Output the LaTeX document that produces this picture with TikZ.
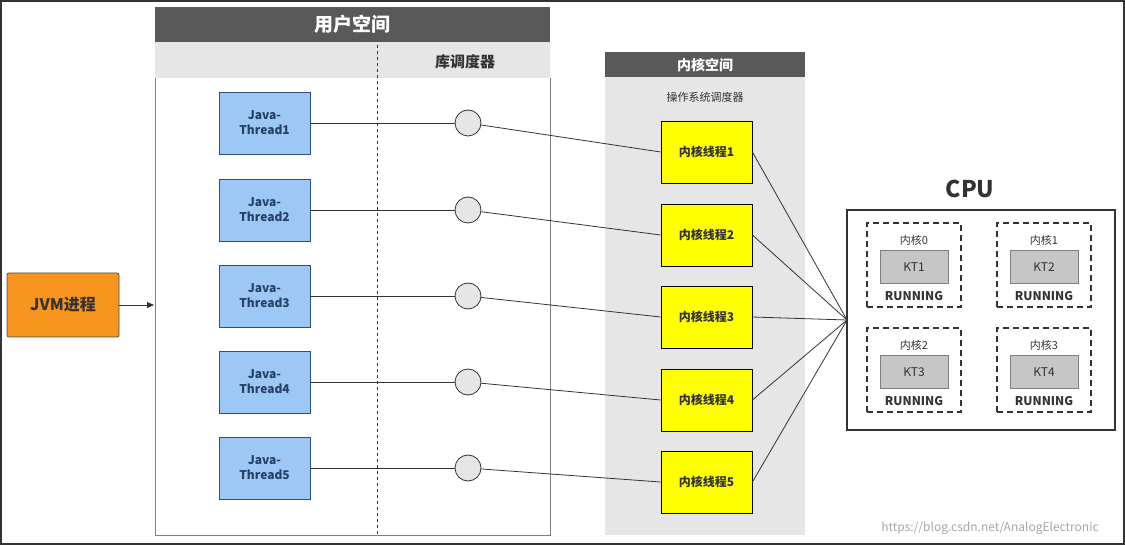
\documentclass[tikz,border=0pt]{standalone}
\usepackage{fontspec}
\setmainfont{Noto Sans CJK SC}
\usetikzlibrary{arrows.meta}
\definecolor{hdr}{HTML}{595959}
\definecolor{band}{HTML}{E6E6E6}
\definecolor{jblue}{HTML}{9DC8F5}
\definecolor{jbord}{HTML}{2F4F7F}
\definecolor{kyel}{HTML}{FFFF00}
\definecolor{orng}{HTML}{F7941D}
\definecolor{txt}{HTML}{333333}
\tikzset{
 jt/.style={draw=jbord,fill=jblue,line width=0.8pt,minimum width=91pt,minimum height=62pt,align=center,font=\fontsize{12}{15}\selectfont\bfseries,text=jbord!80!black},
 kt/.style={draw=black,fill=kyel,line width=0.8pt,minimum width=91pt,minimum height=62pt,font=\fontsize{12}{14}\selectfont\bfseries,text=txt},
 sch/.style={circle,draw=txt,fill=band,line width=0.8pt,minimum size=26pt,inner sep=0pt},
 core/.style={draw=txt,dash pattern=on 6pt off 4pt,line width=1.4pt,minimum width=94pt,minimum height=84pt},
 ktb/.style={draw=gray,fill=gray!45,minimum width=68pt,minimum height=33pt,font=\fontsize{12}{14}\selectfont,text=txt},
 conn/.style={line width=0.8pt,draw=txt}
}
\begin{document}
\begin{tikzpicture}[x=1pt,y=-1pt]
\useasboundingbox (0,0) rectangle (1125,545);
\draw[line width=2pt,draw=black!80] (1,1) rectangle (1124,544);
% user space
\fill[hdr] (155,7) rectangle (550,42);
\node[text=white,font=\fontsize{19}{21}\selectfont\bfseries] (us) at (352,24) {用户空间};
\fill[band] (155,42) rectangle (550,78);
\node[text=txt,font=\fontsize{15}{17}\selectfont\bfseries] (lib) at (465,62) {库调度器};
\draw[gray,line width=0.8pt] (155,78) -- (155,535) -- (550,535) -- (550,78);
\draw[dashed,line width=1pt,txt] (377,45) -- (377,535);
% kernel space
\fill[hdr] (605,52) rectangle (805,77);
\node[text=white,font=\fontsize{14}{16}\selectfont\bfseries] (ks) at (705,65) {内核空间};
\fill[band] (605,77) rectangle (805,535);
\node[text=txt,font=\fontsize{11}{13}\selectfont] (os) at (705,97) {操作系统调度器};
% CPU
\node[font=\fontsize{23}{25}\selectfont\bfseries,text=txt] (cputxt) at (970,189) {CPU};
\draw[line width=1.2pt,txt] (847,210) rectangle (1115,430);
\coordinate (cpu) at (847,320);
\foreach \i/\x/\y/\k in {0/914/265/1,1/1044/265/2,2/914/370/3,3/1044/370/4}{
 \node[core] (c\i) at (\x,\y) {};
 \node[font=\fontsize{11}{13}\selectfont,text=txt] (cl\i) at (\x,\y-25) {内核\i};
 \node[ktb] (k\i) at (\x,\y+2) {KT\k};
 \node[font=\fontsize{12}{14}\selectfont\bfseries,text=txt] (r\i) at (\x,\y+31) {RUNNING};
}
% threads
\foreach \i/\y/\ky in {1/123/152,2/210/235,3/296/317,4/382/400,5/468/482}{
 \node[jt] (j\i) at (264.5,\y) {Java-\\Thread\i};
 \node[sch] (s\i) at (468,\y) {};
 \node[kt] (t\i) at (706.5,\ky) {内核线程\i};
 \draw[conn] (j\i) -- (s\i);
 \draw[conn] (s\i) -- (t\i.west);
 \draw[conn] (t\i.east) -- (cpu);
}
% JVM
\node[draw=black!70,fill=orng,rounded corners=2pt,line width=0.8pt,minimum width=112pt,minimum height=64pt,font=\fontsize{16}{18}\selectfont\bfseries,text=txt] (jvm) at (63,305) {JVM进程};
\coordinate (usl) at (154,305);
\draw[conn,-{Triangle[length=7pt,width=6pt]}] (jvm) -- (usl);
\node[font=\fontsize{12}{14}\selectfont,text=gray!70] (wm) at (990,528) {https://blog.csdn.net/AnalogElectronic};
\end{tikzpicture}
\end{document}
